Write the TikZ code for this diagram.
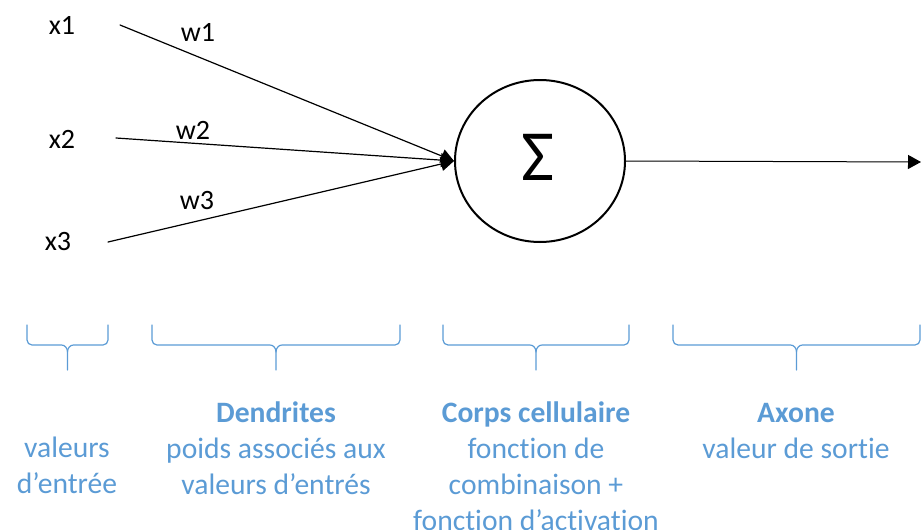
\documentclass[tikz,border=0pt]{standalone}
\usepackage{fontspec}
\setmainfont{Carlito}[Ligatures=NoCommon]
\usetikzlibrary{arrows.meta,shapes.geometric}
\definecolor{bleu}{RGB}{91,155,213}
\tikzset{
  entree/.style={font=\fontsize{14}{17}\selectfont},
  poids/.style={font=\fontsize{14}{17}\selectfont},
  legende/.style={text=bleu,align=center,anchor=north,inner sep=0pt,font=\fontsize{14.8}{18}\selectfont},
  accolade/.style={draw=bleu,line width=0.6pt,line cap=round},
}
\begin{document}
\begin{tikzpicture}[line cap=round,line join=round,>={Triangle[length=6.5pt,width=7pt]},x=0.5pt,y=-0.5pt]
\useasboundingbox (0,0) rectangle (921,530);
\node[entree] (x1) at (62,25) {x1};
\node[entree] (x2) at (62,139) {x2};
\node[entree] (x3) at (58,242) {x3};
\coordinate (s1) at (120,25);
\coordinate (s2) at (116,138);
\coordinate (s3) at (108,242);
\node[ellipse,draw,line width=1pt,minimum width=85pt,minimum height=81pt,inner sep=0pt] (corps) at (540,161) {};
\node (sigma) at (538,157) {\fontsize{36}{36}\selectfont Σ};
\coordinate (sortie) at (921,162);
\draw[->,line width=0.6pt] (s1) -- (corps.west);
\draw[->,line width=0.6pt] (s2) -- (corps.west);
\draw[->,line width=0.6pt] (s3) -- (corps.west);
\draw[->,line width=0.5pt] (corps.east) -- (sortie);
\node[poids] (w1) at (198,32) {w1};
\node[poids] (w2) at (193,130) {w2};
\node[poids] (w3) at (197,201) {w3};
\foreach \a/\b in {27/108,152/400,443/629,673/920}{
  \pgfmathsetmacro{\m}{(\a+\b)/2}
  \draw[accolade] (\a,325) -- (\a,340) to[out=-90,in=180] (\a+5,345) -- (\m-6,345) to[out=0,in=90] (\m,352) -- (\m,370);
  \draw[accolade] (\b,325) -- (\b,340) to[out=-90,in=0] (\b-5,345) -- (\m+6,345) to[out=180,in=90] (\m,352);
}
\node[legende] (entrees) at (67,437) {valeurs\\d'entrée};
\node[legende] (dendrites) at (276,401) {\textbf{Dendrites}\\poids associés aux\\valeurs d'entrés};
\node[legende] (soma) at (536,401) {\textbf{Corps cellulaire}\\fonction de\\combinaison +\\fonction d'activation};
\node[legende] (axone) at (796,403) {\textbf{Axone}\\valeur de sortie};
\end{tikzpicture}
\end{document}
